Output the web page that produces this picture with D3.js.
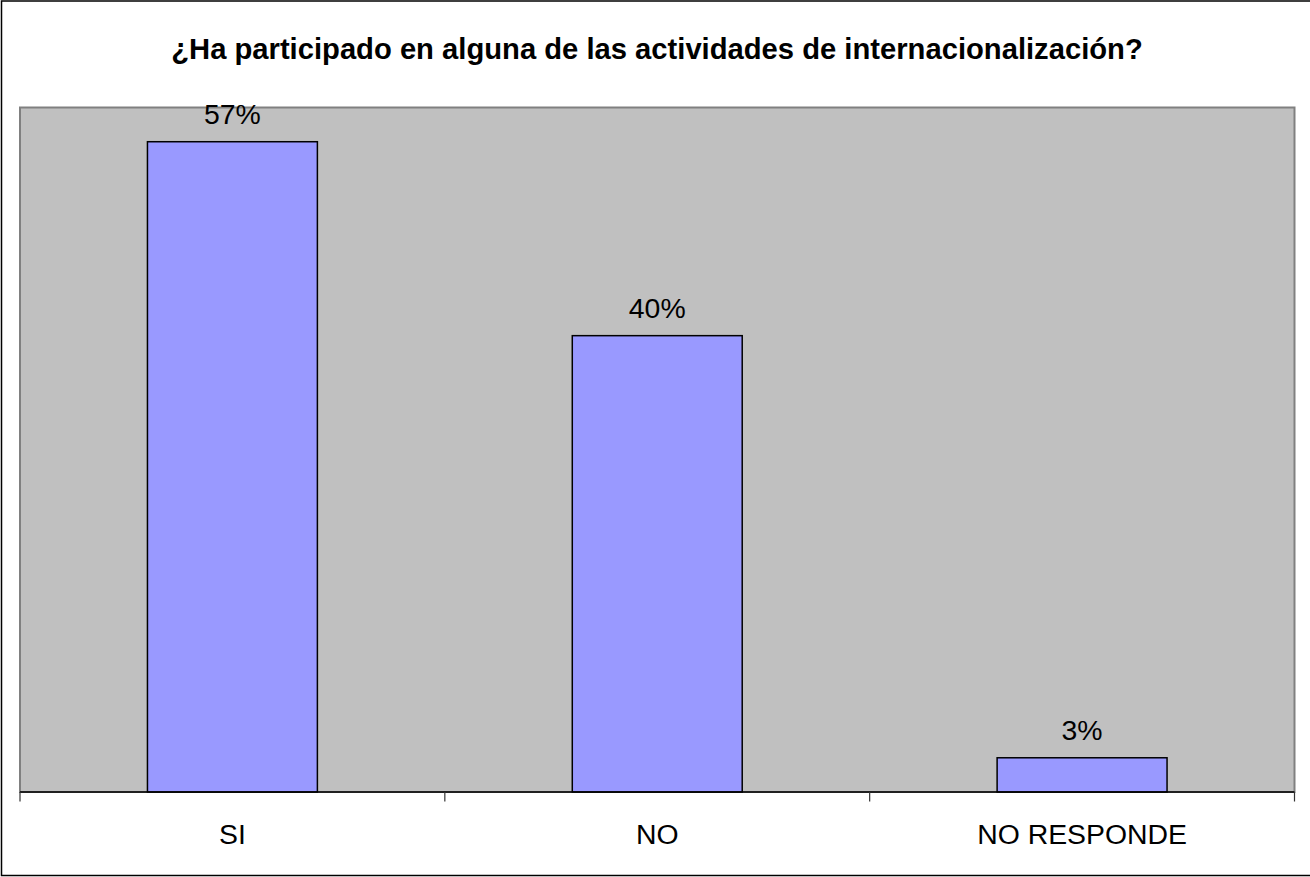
<!DOCTYPE html>
<html>
<head>
<meta charset="utf-8">
<script src="https://cdn.jsdelivr.net/npm/d3@7"></script>
<style>
  html, body { margin: 0; padding: 0; background: #fff; }
  svg { display: block; }
  text { font-family: Arial, "Liberation Sans", sans-serif; fill: #000; }
</style>
</head>
<body>
<svg id="chart" width="1310" height="877"></svg>
<script>
const title = "¿Ha participado en alguna de las actividades de internacionalización?";
const categories = ["SI", "NO", "NO RESPONDE"];
const values = [0.57, 0.40, 0.03];
const valueLabels = ["57%", "40%", "3%"];
const yDomain = [0, 0.6];

const svg = d3.select("#chart");
const W = 1310, H = 877;
const plot = { left: 20, right: 1294.5, top: 107.5, bottom: 792 };

// outer border
svg.append("rect")
  .attr("x", 1.5).attr("y", 1).attr("width", W + 10).attr("height", 874.5)
  .attr("fill", "#fff").attr("stroke", "#000").attr("stroke-width", 1.5);

// title
svg.append("text")
  .attr("x", 657).attr("y", 59)
  .attr("text-anchor", "middle")
  .attr("font-size", 29.2).attr("font-weight", "bold")
  .text(title);

const x = d3.scaleBand().domain(categories).range([plot.left, plot.right]).padding(0);
const y = d3.scaleLinear().domain(yDomain).range([plot.bottom, plot.top]);

// plot area
svg.append("rect")
  .attr("x", plot.left).attr("y", plot.top)
  .attr("width", plot.right - plot.left).attr("height", plot.bottom - plot.top)
  .attr("fill", "#C0C0C0").attr("stroke", "#808080").attr("stroke-width", 2);

const barW = x.bandwidth() * 0.4;
const barOff = (x.bandwidth() - barW) / 2;

svg.selectAll("rect.bar").data(values).enter().append("rect")
  .attr("class", "bar")
  .attr("x", (d, i) => x(categories[i]) + barOff)
  .attr("y", d => y(d))
  .attr("width", barW)
  .attr("height", d => y(0) - y(d))
  .attr("fill", "#9999FF").attr("stroke", "#000").attr("stroke-width", 1.5);

svg.selectAll("text.vlabel").data(values).enter().append("text")
  .attr("class", "vlabel")
  .attr("x", (d, i) => x(categories[i]) + x.bandwidth() / 2)
  .attr("y", d => y(d) - 18)
  .attr("text-anchor", "middle")
  .attr("font-size", 28.4)
  .text((d, i) => valueLabels[i]);

// x axis
const axisG = svg.append("g").attr("transform", `translate(0,${plot.bottom})`);
axisG.append("line")
  .attr("x1", plot.left).attr("x2", plot.right)
  .attr("y1", 0).attr("y2", 0)
  .attr("stroke", "#000").attr("stroke-width", 1.5);
const tickPos = categories.map(c => x(c)).concat([plot.right]);
axisG.selectAll("line.tick").data(tickPos).enter().append("line")
  .attr("class", "tick")
  .attr("x1", d => d).attr("x2", d => d)
  .attr("y1", 0).attr("y2", 9.5)
  .attr("stroke", "#333").attr("stroke-width", 1.2);
axisG.selectAll("text.cat").data(categories).enter().append("text")
  .attr("class", "cat")
  .attr("x", d => x(d) + x.bandwidth() / 2)
  .attr("y", 844 - plot.bottom)
  .attr("text-anchor", "middle")
  .attr("font-size", 28.4)
  .text(d => d);
</script>
</body>
</html>
